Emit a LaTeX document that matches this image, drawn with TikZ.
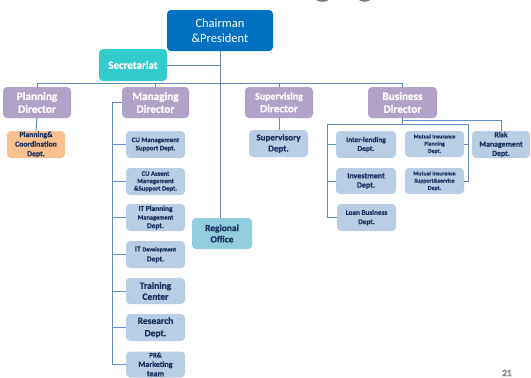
\documentclass[tikz,border=0pt]{standalone}
\usepackage{fontspec}
\setmainfont{Carlito}[BoldFeatures={FakeBold=0.8}]
\definecolor{chairblue}{RGB}{0,112,192}
\definecolor{secturq}{RGB}{51,204,204}
\definecolor{dirpurple}{RGB}{179,162,199}
\definecolor{deptblue}{RGB}{185,205,229}
\definecolor{orangebox}{RGB}{250,192,144}
\definecolor{regionblue}{RGB}{146,205,221}
\definecolor{linkblue}{RGB}{95,140,200}
\definecolor{navytext}{RGB}{23,50,94}
\newcommand{\fsz}[2]{\fontsize{#1}{#2}\selectfont}
\tikzset{
  box/.style={rounded corners=4pt, inner sep=0pt, align=center, font=\bfseries},
  chairbox/.style={box, fill=chairblue, text=white, font=\fsz{12.5}{15.5}},
  secbox/.style={box, fill=secturq, text=white, font=\bfseries\fsz{11}{13}},
  dirbox/.style={box, fill=dirpurple, text=white, minimum height=31pt, font=\bfseries\fsz{11.2}{12.8}},
  deptbox/.style={box, fill=deptblue, text=navytext},
  link/.style={draw=linkblue, line width=1pt}
}
\begin{document}
\begin{tikzpicture}[x=1pt,y=-1pt]
\useasboundingbox (0,0) rectangle (531,378);
\fill[white] (0,0) rectangle (531,378);

% partly hidden dark marks along the top edge
\fill[black!50] (322.5,-1.8) ellipse (7 and 3.6);
\fill[black!50] (364.5,-1.8) ellipse (6.5 and 3.6);

% top level
\node[chairbox, minimum width=106pt, minimum height=41pt] (chair) at (220,30.5) {Chairman\\\&President};
\node[secbox, minimum width=68pt, minimum height=32pt] (sec) at (133,65) {Secretariat};

% directors
\node[dirbox, minimum width=68pt] (pd) at (37,102.5) {Planning\\Director};
\node[dirbox, minimum width=67pt] (md) at (155.5,102.5) {Managing\\Director};
\node[dirbox, minimum width=68pt] (sd) at (279,102.5) {{\fsz{10}{12.8}Supervising}\\Director};
\node[dirbox, minimum width=69pt] (bd) at (402.5,102.5) {Business\\Director};

% planning
\node[box, fill=orangebox, text=navytext, minimum width=58pt, minimum height=27pt, font=\bfseries\fsz{7.7}{9.6}] (pcd) at (36,144.5) {Planning\&\\Coordination\\Dept.};

% managing departments
\node[deptbox, minimum width=59pt, minimum height=27pt, font=\bfseries\fsz{6.8}{8.2}] (cum) at (155.5,144.5) {CU Management\\Support Dept.};
\node[deptbox, minimum width=59pt, minimum height=27pt, font=\bfseries\fsz{6.6}{7.4}] (cua) at (155.5,181.5) {CU Assent\\Management\\\&Support Dept.};
\node[deptbox, minimum width=59pt, minimum height=27pt, font=\bfseries\fsz{7.4}{8.6}] (itp) at (155.5,217.5) {IT Planning\\{\fsz{6.4}{8.6}Management}\\Dept.};
\node[deptbox, minimum width=59pt, minimum height=27pt, font=\bfseries\fsz{7.6}{10}] (itd) at (155.5,254.5) {IT {\fsz{6}{10}Development}\\Dept.};
\node[deptbox, minimum width=59pt, minimum height=26pt, font=\bfseries\fsz{9.5}{11}] (tc) at (155.5,291) {Training\\Center};
\node[deptbox, minimum width=59pt, minimum height=27pt, font=\bfseries\fsz{9.5}{12.3}] (rd) at (155.5,327.5) {Research\\Dept.};
\node[deptbox, minimum width=59pt, minimum height=26pt, font=\bfseries\fsz{8}{9.4}] (pr) at (155.5,364.5) {{\fsz{7}{9.4}PR\&}\\Marketing\\team};

% regional office
\node[box, fill=regionblue, text=navytext, minimum width=60pt, minimum height=31pt, font=\bfseries\fsz{9.4}{11.3}] (ro) at (222,233.5) {Regional\\Office};

% supervising
\node[deptbox, minimum width=59pt, minimum height=27pt, font=\bfseries\fsz{9}{11}] (svd) at (278.5,143.5) {Supervisory\\Dept.};

% business departments
\node[deptbox, minimum width=60pt, minimum height=27pt, font=\bfseries\fsz{7.4}{8.8}] (il) at (366,144.5) {Inter-lending\\Dept.};
\node[deptbox, minimum width=60pt, minimum height=26pt, font=\bfseries\fsz{8}{9.3}] (inv) at (366,181) {Investment\\Dept.};
\node[deptbox, minimum width=59pt, minimum height=27pt, font=\bfseries\fsz{7.2}{9.3}] (loan) at (366.5,217.5) {Loan Business\\Dept.};
\node[deptbox, minimum width=59pt, minimum height=26pt, font=\bfseries\fsz{5.7}{7.2}] (mip) at (434.5,144) {Mutual Insurance\\Planning\\Dept.};
\node[deptbox, minimum width=59pt, minimum height=26pt, font=\bfseries\fsz{5.8}{7.2}] (mis) at (434.5,181) {Mutual Insurance\\Support\&service\\Dept.};
\node[deptbox, minimum width=58pt, minimum height=27pt, font=\bfseries\fsz{7.8}{9.3}] (risk) at (501,144.5) {Risk\\Management\\Dept.};

% page number
\node[text=black!50, font=\bfseries\fsz{9.5}{10}] (pg) at (507,373) {21};

% connectors: chairman, secretariat, regional office
\draw[link] (chair.south) -- (chair.south |- ro.north);
\draw[link] (sec.east) -- (sec.east -| chair.south);

% bus to the directors
\coordinate (bus) at (0,83);
\draw[link] (pd.north) -- (pd.north |- bus) -- (bd.north |- bus) -- (bd.north);
\draw[link] (md.north) -- (md.north |- bus);
\draw[link] (sd.north) -- (sd.north |- bus);

% planning and supervising
\draw[link] (pd.south) -- (pcd.north);
\draw[link] (sd.south) -- (sd.south |- svd.north);

% managing spine
\coordinate (mspine) at (112,0);
\draw[link] (md.west) -- (md.west -| mspine) -- (pr.west -| mspine) -- (pr.west);
\foreach \d in {cum,cua,itp,itd,tc,rd}
  \draw[link] (\d.west -| mspine) -- (\d.west);

% business branches
\coordinate (bl) at (327,124);
\coordinate (br) at (468,124);
\coordinate (bt) at (0,120);
\draw[link] (bd.south) -- (bd.south |- bl);
\draw[link] (bd.south |- bt) -- (risk.north |- bt) -- (risk.north);
\draw[link] (loan.west) -- (loan.west -| bl) -- (bl) -- (br) -- (br |- mis.east) -- (mis.east);
\draw[link] (il.west -| bl) -- (il.west);
\draw[link] (inv.west -| bl) -- (inv.west);
\draw[link] (mip.east -| br) -- (mip.east);
\end{tikzpicture}
\end{document}
